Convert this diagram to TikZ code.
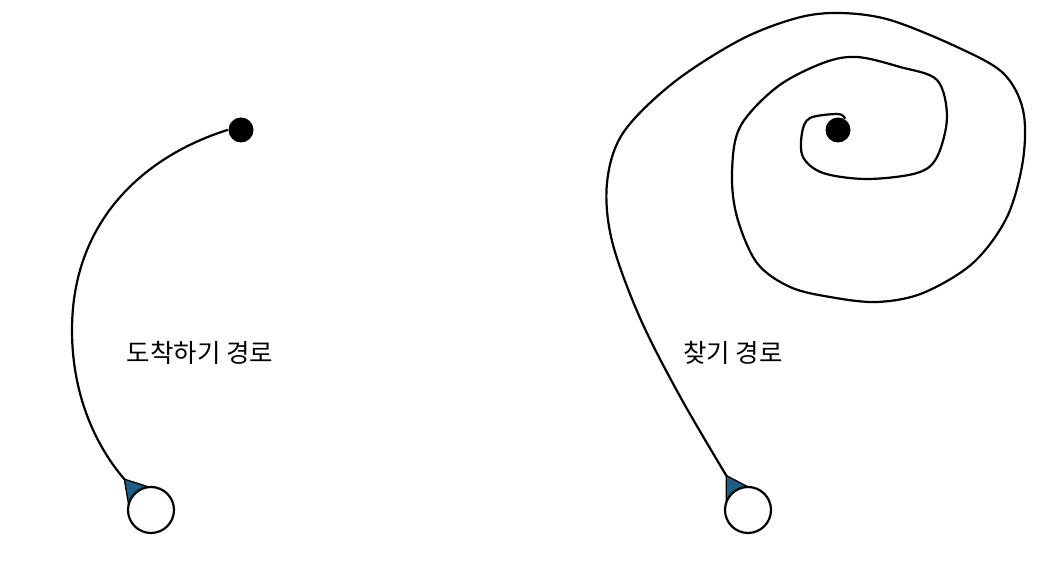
\documentclass[tikz,border=0pt]{standalone}
\usepackage{fontspec}
\newfontfamily\kofont{Noto Sans CJK KR}
\usetikzlibrary{arrows.meta}
\definecolor{tipblue}{RGB}{27,94,134}
\pgfdeclarelayer{back}
\pgfsetlayers{back,main}
\begin{document}
\begin{tikzpicture}[x=1pt,y=1pt,line join=round,line cap=round,line width=2.2pt,
	goalpt/.style={circle,fill=black,minimum size=25pt,inner sep=0pt},
	startpt/.style={circle,draw=black,fill=white,minimum size=46pt,inner sep=0pt},
	route/.style={line width=2.2pt,line join=round,line cap=round,shorten >=-7pt,
		-{Triangle[reversed,length=25pt,width=30pt,fill=tipblue,line width=1.3pt]}},
	lbl/.style={font=\kofont\fontsize{25.5}{30}\selectfont}]
	\useasboundingbox (0,0) rectangle (1055,561);
	%left: arrive
	\node[goalpt](goalL) at (241,431) {};
	\node[startpt](startL) at (151,51) {};
	\node[lbl](arrive) at (200,208) {도착하기 경로};
	%right: search
	\node[goalpt](goalR) at (838,431) {};
	\node[startpt](startR) at (748,51) {};
	\node[lbl](search) at (733,208) {찾기 경로};
	\begin{pgfonlayer}{back}
	\draw[route](goalL.west)..controls(145,405)and(72,341)..(72,231)
		..controls(72,160)and(100,110)..(startL);
	\draw[route] plot[smooth,tension=0.55] coordinates {(goalR.60) (838,447) (810,443) (802,428) (803,404) (823,388) (867,382) (917,388) (937,404) (947,444) (937,481) (900,494) (857,504) (823,498) (777,474) (740,434) (732,388) (737,344) (757,298) (790,274) (830,264) (877,259) (923,268) (973,298) (1007,344) (1023,401) (1023,451) (1003,488) (957,514) (890,541) (840,548) (797,543) (740,521) (673,478) (623,428) (607,378) (612,320) (640,243) (682,161) (startR.123)};
	\end{pgfonlayer}
\end{tikzpicture}
\end{document}
